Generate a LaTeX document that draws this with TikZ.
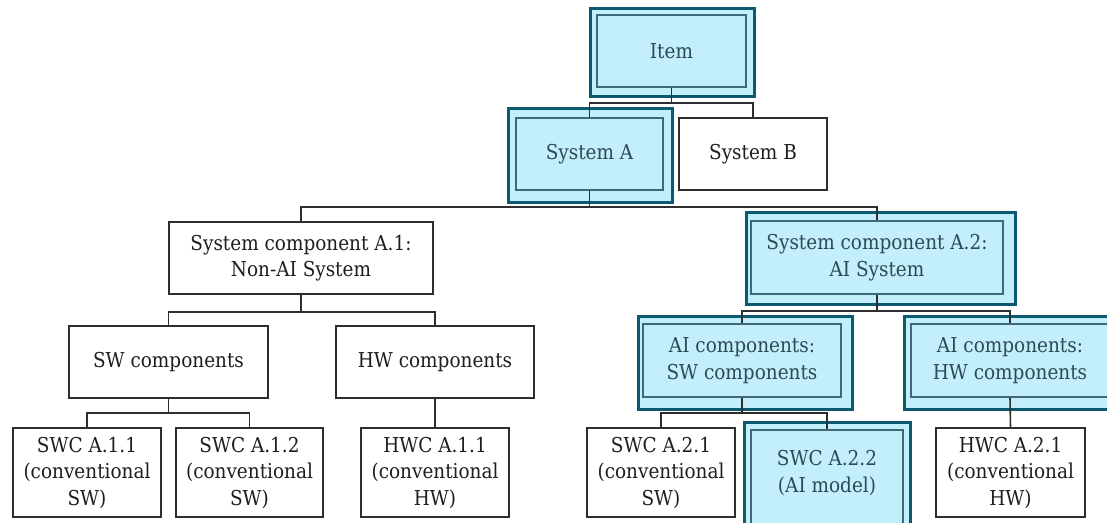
\documentclass[tikz,border=0pt]{standalone}
\usepackage{fontspec}
\setmainfont{DejaVu Serif Condensed}
\usetikzlibrary{calc,backgrounds}
\definecolor{hlfill}{HTML}{C3EEFB}
\definecolor{hlframe}{HTML}{0B5A70}
\definecolor{hlline}{HTML}{3E6A78}
\definecolor{hltext}{HTML}{2C4A55}
\definecolor{boxline}{HTML}{2E2E2E}
\definecolor{boxtext}{HTML}{1E1E1E}
\tikzset{
  base/.style={rectangle, align=center, inner sep=0pt, line width=1.5pt,
    font=\fontsize{20.5}{26.5}\selectfont},
  plainbox/.style={base, draw=boxline, fill=white, text=boxtext},
  hlbox/.style={base, draw=hlline, fill=hlfill, text=hltext},
  hltxt/.style={base, text=hltext},
  frame/.style={draw=hlframe, fill=hlfill, line width=3pt},
  conn/.style={draw=boxline, line width=1.6pt},
}
\begin{document}
\begin{tikzpicture}[x=1pt,y=-1pt]
\useasboundingbox (0,0) rectangle (1107,522);
\clip (0,0) rectangle (1107,522);
% level 0
\node[hlbox, minimum width=149, minimum height=72] (item) at (671.5,51) {Item};
% level 1
\node[hlbox, minimum width=147, minimum height=72] (sysA) at (589.5,154) {System A};
\node[plainbox, minimum width=148, minimum height=72] (sysB) at (753,154) {System B};
% level 2
\node[plainbox, minimum width=264, minimum height=72] (a1) at (301,258) {System component A.1:\\Non-AI System};
\node[hlbox, minimum width=252, minimum height=73] (a2) at (877,257.5) {System component A.2:\\AI System};
% level 3
\node[plainbox, minimum width=199, minimum height=72] (sw) at (168.5,362) {SW components};
\node[plainbox, minimum width=198, minimum height=72] (hw) at (435,362) {HW components};
\node[hlbox, minimum width=198, minimum height=73] (aisw) at (742,360.5) {AI components:\\SW components};
\node[hlbox, minimum width=198, minimum height=73] (aihw) at (1010,360.5) {AI components:\\HW components};
% level 4
\node[plainbox, minimum width=148, minimum height=89] (swc111) at (87,472.5) {SWC A.1.1\\(conventional\\SW)};
\node[plainbox, minimum width=147, minimum height=89] (swc112) at (249.5,472.5) {SWC A.1.2\\(conventional\\SW)};
\node[plainbox, minimum width=148, minimum height=89] (hwc111) at (435,472.5) {HWC A.1.1\\(conventional\\HW)};
\node[plainbox, minimum width=148, minimum height=89] (swc221) at (661,472.5) {SWC A.2.1\\(conventional\\SW)};
\node[hlbox, minimum width=152, minimum height=100] (swc222) at (827,480) {};
\node[hltxt] (swc222t) at (827,473) {SWC A.2.2\\(AI model)};
\node[plainbox, minimum width=149, minimum height=89] (hwc221) at (1010.5,472.5) {HWC A.2.1\\(conventional\\HW)};
% highlight frames
\begin{scope}[on background layer]
\draw[frame] ($(item.north west)+(-6,-6)$) rectangle ($(item.south east)+(8,9)$);
\draw[frame] ($(sysA.north west)+(-7,-9)$) rectangle ($(sysA.south east)+(9,12)$);
\draw[frame] ($(a2.north west)+(-4,-8)$) rectangle ($(a2.south east)+(12,10)$);
\draw[frame] ($(aisw.north west)+(-4,-7)$) rectangle ($(aisw.south east)+(11,12)$);
\draw[frame] ($(aihw.north west)+(-6,-7)$) rectangle ($(aihw.south east)+(11,12)$);
\draw[frame] ($(swc222.north west)+(-6,-7)$) rectangle ($(swc222.south east)+(7,10)$);
\end{scope}
% connectors
\draw[conn] (item.south) -- ++(0,15) -| (sysA.north);
\draw[conn] (item.south) -- ++(0,15) -| (sysB.north);
\draw[conn] (sysA.south) -- ++(0,16) -| (a1.north);
\draw[conn] (sysA.south) -- ++(0,16) -| (a2.north);
\draw[conn] (a1.south) -- ++(0,17) -| (sw.north);
\draw[conn] (a1.south) -- ++(0,17) -| (hw.north);
\draw[conn] (a2.south) -- ++(0,16) -| (aisw.north);
\draw[conn] (a2.south) -- ++(0,16) -| (aihw.north);
\draw[conn] (sw.south) -- ++(0,14) -| (swc111.north);
\draw[conn] (sw.south) -- ++(0,14) -| (swc112.north);
\draw[conn] (hw.south) -- (hwc111.north);
\draw[conn] (aisw.south) -- ++(0,15) -| (swc221.north);
\draw[conn] (aisw.south) -- ++(0,15) -| (swc222.north);
\draw[conn] (aihw.south) -- (hwc221.north);
\end{tikzpicture}
\end{document}
